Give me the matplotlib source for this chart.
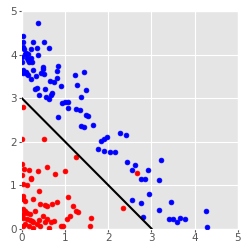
# scatter of two classes with a linear decision boundary
import numpy as np
import matplotlib
matplotlib.use("Agg")
import matplotlib.pyplot as plt

# class 1 (blue) points
blue_x = [0.38, 0.02, 0.02, 0.27, 0.52, 0.04, 0.36, 0.64, 0.06, 0.21, 0.10, 0.15, 0.08,
          0.38, 0.13, 0.21, 0.15, 0.23, 0.18, 0.01, 0.01, 0.27, 0.50, 0.50, 0.85, 0.82,
          1.23, 1.45, 0.02, 0.06, 0.02, 0.12, 0.10, 0.15, 0.32, 0.45, 0.52, 0.21, 0.65,
          0.75, 0.81, 1.27, 0.92, 0.31, 0.35, 0.54, 1.48, 0.69, 0.67, 0.41, 0.56, 0.64,
          1.38, 0.99, 0.94, 1.08, 1.08, 1.26, 1.35, 1.48, 1.54, 0.85, 1.66, 1.38, 1.44,
          1.83, 1.91, 1.98, 1.77, 1.91, 2.05, 2.16, 2.28,
          2.42, 2.44, 2.55, 2.61, 2.92, 3.22, 2.76, 2.86, 3.18, 2.94, 2.55, 2.75, 2.81,
          3.18, 3.46, 3.41, 3.49, 3.66, 3.78, 3.59, 4.27, 4.29]
blue_y = [4.72, 4.43, 4.30, 4.30, 4.28, 4.18, 4.16, 4.14, 4.12, 4.12, 4.04, 4.01, 4.02,
          3.99, 3.91, 3.91, 3.87, 3.84, 3.83, 3.95, 3.82, 3.64, 3.72, 3.67, 3.74, 3.62,
          3.52, 3.59, 3.64, 3.61, 3.58, 3.55, 3.61, 3.53, 3.51, 3.57, 3.55, 3.44, 3.39,
          3.36, 3.47, 3.29, 3.28, 3.21, 3.24, 3.20, 3.18, 3.11, 3.08, 3.06, 3.03, 2.99,
          3.02, 2.92, 2.89, 2.92, 2.78, 2.76, 2.72, 2.60, 2.59, 2.56, 2.37, 2.35, 2.33,
          2.01, 2.05, 2.11, 1.82, 1.78, 1.75, 1.75, 2.20,
          2.15, 1.53, 1.35, 1.46, 1.35, 1.58, 1.13, 1.13, 1.12, 0.79, 0.65, 0.58, 0.27,
          0.43, 0.61, 0.21, 0.21, 0.24, 0.21, 0.15, 0.40, 0.04]

# class 0 (red) points
red_x = [0.04, 0.01, 0.52, 0.01, 0.06, 0.16, 0.01, 0.37, 0.58, 0.99, 0.78, 1.25, 0.22,
         0.22, 0.02, 0.12, 0.41, 0.02, 0.04, 0.27, 0.08, 1.07, 0.43, 0.55, 0.58, 0.70,
         0.82, 1.19, 0.04, 0.08, 0.12, 0.19, 0.31, 1.25, 1.30, 0.04, 0.04, 0.12, 0.19,
         0.23, 0.27, 0.39, 0.49, 0.58, 0.68, 0.74, 0.35, 0.08, 0.16, 0.43, 0.54, 0.92,
         0.96, 1.05, 1.11, 1.60, 1.58, 0.02, 0.27, 0.62, 2.35, 2.67]
red_y = [2.79, 2.05, 2.05, 1.48, 1.36, 1.35, 1.23, 1.32, 1.41, 1.33, 1.25, 1.65, 1.17,
         1.13, 1.02, 1.00, 0.86, 0.75, 0.69, 0.67, 0.64, 0.73, 0.56, 0.55, 0.52, 0.56,
         0.61, 0.51, 0.44, 0.41, 0.35, 0.33, 0.40, 0.41, 0.37, 0.33, 0.25, 0.23, 0.20,
         0.18, 0.14, 0.20, 0.29, 0.23, 0.14, 0.18, 0.10, 0.10, 0.06, 0.06, 0.14, 0.06,
         0.05, 0.21, 0.28, 0.24, 0.05, 0.06, 0.02, 0.02, 0.47, 1.27]

# boundary x + y = 3
line_x = [0, 3]
line_y = [3, 0]

plt.style.use("ggplot")
fig = plt.figure(figsize=(2.48, 2.52), dpi=100)
ax = fig.add_axes([0.0875, 0.093, 0.872, 0.863])
ax.scatter(blue_x, blue_y, s=12, c="blue", zorder=3)
ax.scatter(red_x, red_y, s=12, c="red", zorder=3)
ax.plot(line_x, line_y, color="black", lw=1.5, zorder=4)
ax.set_xlim(0, 5)
ax.set_ylim(0, 5)
ax.set_xticks(range(6))
ax.set_yticks(range(6))
ax.tick_params(labelsize=7.5, length=2, pad=1.5)
fig.savefig("out.png", dpi=100)
